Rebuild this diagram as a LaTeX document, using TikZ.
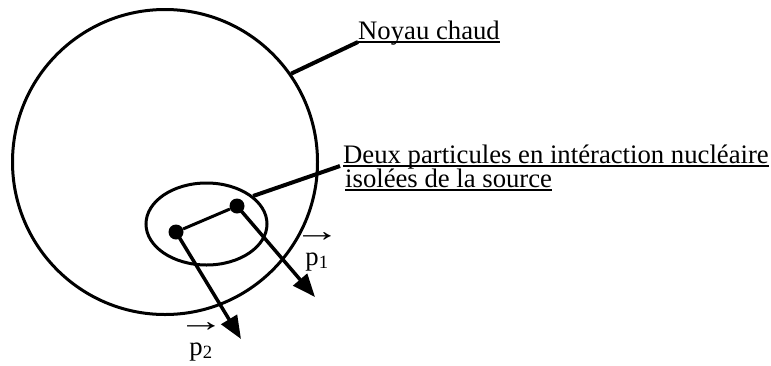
\documentclass[tikz,border=0pt]{standalone}
\usepackage{fontspec}
\setmainfont{Liberation Serif}
\usetikzlibrary{shapes.geometric,arrows.meta,positioning}

\begin{document}
\begin{tikzpicture}[
    x=1pt, y=-1pt,
    every node/.style={font=\fontsize{26.7}{30}\selectfont},
    ring/.style={draw, line width=3pt, inner sep=0pt},
    particle/.style={circle, fill=black, inner sep=0pt, minimum size=15pt},
    momentum/.style={-{Triangle[length=23pt, width=18pt]}, line width=3.5pt},
    leader/.style={line width=4pt},
    notetext/.style={inner sep=0pt, anchor=base west},
    vectext/.style={inner sep=0pt, align=center, anchor=base},
    underl/.style={line width=1.6pt}
]
\useasboundingbox (0,0) rectangle (771,365);

% hot nucleus and the isolated pair
\node[ring, circle, minimum size=305pt] (noyau) at (165,162) {};
\node[ring, ellipse, minimum width=121pt, minimum height=82pt] (paire) at (206.5,224) {};
\node[particle] (part1) at (237,206) {};
\node[particle] (part2) at (176,232) {};
\coordinate (tip1) at (315,297);
\coordinate (tip2) at (241,339);

\draw[line width=3pt] (part2) -- (part1);
\draw[momentum] (part1.center) -- (tip1);
\draw[momentum] (part2.center) -- (tip2);

\node[vectext] (p1lbl) at (317,265) {{\fontsize{26}{22}\selectfont\scalebox{1.8}[1.2]{→}}\\[-6pt]p\textsubscript{1}};
\node[vectext] (p2lbl) at (201,355) {{\fontsize{26}{22}\selectfont\scalebox{1.8}[1.2]{→}}\\[-6pt]p\textsubscript{2}};

% captions
\node[notetext] (noyautxt) at (358,39) {Noyau chaud};
\node[notetext] (pairetxt) at (343,163) {Deux particules en intéraction nucléaire};
\node[notetext] (sourcetxt) at (345,187) {isolées de la source\ };

\draw[underl] ([yshift=-3pt]noyautxt.base west) -- ([yshift=-3pt]noyautxt.base east);
\draw[underl] ([yshift=-3pt]pairetxt.base west) -- ([yshift=-3pt]pairetxt.base east);
\draw[underl] ([yshift=-3pt]sourcetxt.base west) -- ([yshift=-3pt]sourcetxt.base east);

\draw[leader] (noyau.35) -- ([yshift=-3pt]noyautxt.base west);
\draw[leader] (paire.31) -- ([xshift=-3pt, yshift=-3pt]pairetxt.base west);

\end{tikzpicture}
\end{document}
